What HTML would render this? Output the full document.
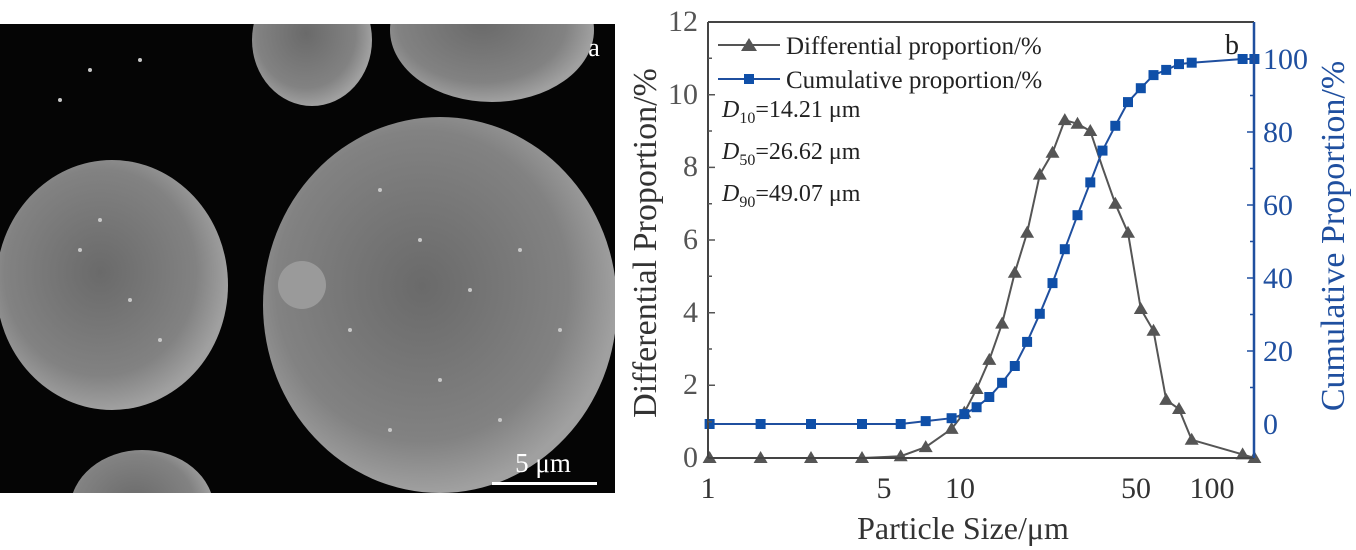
<!DOCTYPE html>
<html><head><meta charset="utf-8"><style>
html,body{margin:0;padding:0;background:#fff;width:1356px;height:550px;overflow:hidden}
svg{display:block}
text{font-family:"Liberation Serif",serif}
</style></head><body>
<svg width="1356" height="550" viewBox="0 0 1356 550" xmlns="http://www.w3.org/2000/svg">
<defs>
<radialGradient id="sp" cx="45%" cy="45%" r="55%">
<stop offset="0" stop-color="#6a6a6a"/><stop offset="0.75" stop-color="#828282"/><stop offset="1" stop-color="#a0a0a0"/>
</radialGradient>
<clipPath id="semc"><rect x="0" y="24" width="615" height="469"/></clipPath>
<polygon id="tri" points="0,-7 7,5 -7,5" fill="#555"/>
<rect id="sq" x="-5" y="-5" width="10" height="10" fill="#0f4fa8"/>
</defs>
<rect x="0" y="24" width="615" height="469" fill="#050505"/>
<g clip-path="url(#semc)">
<ellipse cx="440" cy="305" rx="177" ry="188" fill="url(#sp)"/>
<ellipse cx="112" cy="285" rx="116" ry="125" fill="url(#sp)"/>
<ellipse cx="312" cy="40" rx="60" ry="66" fill="url(#sp)"/>
<ellipse cx="492" cy="30" rx="102" ry="72" fill="url(#sp)"/>
<ellipse cx="142" cy="510" rx="72" ry="60" fill="url(#sp)"/>
<circle cx="302" cy="285" r="24" fill="#9a9a9a"/>
<g fill="#c8c8c8">
<circle cx="380" cy="190" r="2"/><circle cx="420" cy="240" r="2"/><circle cx="470" cy="290" r="2"/><circle cx="350" cy="330" r="2"/><circle cx="520" cy="250" r="2"/><circle cx="440" cy="380" r="2"/><circle cx="500" cy="420" r="2"/><circle cx="390" cy="430" r="2"/><circle cx="560" cy="330" r="2"/><circle cx="80" cy="250" r="2"/><circle cx="130" cy="300" r="2"/><circle cx="100" cy="220" r="2"/><circle cx="160" cy="340" r="2"/><circle cx="60" cy="100" r="2"/><circle cx="90" cy="70" r="2"/><circle cx="140" cy="60" r="2"/>
</g>
</g>
<text x="594" y="56" font-size="26" fill="#fff" text-anchor="middle">a</text>
<text x="543" y="472" font-size="27" fill="#fff" text-anchor="middle">5 μm</text>
<rect x="492" y="482" width="105" height="3" fill="#fff"/>

<polyline fill="none" stroke="#555" stroke-width="2" points="709.6,458 760.6,458 811,458 862,458 900.7,456.2 925.7,447.1 951.6,428.9 964.3,412.6 976.6,389 989.3,359.9 1002.1,323.6 1014.8,272.7 1027.1,232.8 1039.8,174.6 1052.5,152.8 1064.8,120.1 1077.5,123.8 1090.3,131 1102.5,167.4 1115.3,203.7 1128,232.8 1140.8,309 1153.5,330.8 1166.2,399.9 1179,409 1191.7,439.8 1242.6,454.4 1254.4,458"/>
<polyline fill="none" stroke="#1f4f9f" stroke-width="2" points="709.6,424 760.6,424 811,424 862,424 900.7,424 925.7,421.1 951.6,418.2 964.3,414.1 976.6,407.2 989.3,397 1002.1,382.8 1014.8,366 1027.1,341.9 1039.8,313.8 1052.5,283.1 1064.8,249.2 1077.5,215.2 1090.3,182.4 1102.5,150.6 1115.3,125.8 1128,102.1 1140.8,88.2 1153.5,75.1 1166.2,69.9 1179,64.1 1191.7,62.7 1242.6,59 1254.4,59"/>
<g>
<use href="#tri" x="709.6" y="458"/><use href="#tri" x="760.6" y="458"/><use href="#tri" x="811" y="458"/><use href="#tri" x="862" y="458"/><use href="#tri" x="900.7" y="456.2"/><use href="#tri" x="925.7" y="447.1"/><use href="#tri" x="951.6" y="428.9"/><use href="#tri" x="964.3" y="412.6"/><use href="#tri" x="976.6" y="389"/><use href="#tri" x="989.3" y="359.9"/><use href="#tri" x="1002.1" y="323.6"/><use href="#tri" x="1014.8" y="272.7"/><use href="#tri" x="1027.1" y="232.8"/><use href="#tri" x="1039.8" y="174.6"/><use href="#tri" x="1052.5" y="152.8"/><use href="#tri" x="1064.8" y="120.1"/><use href="#tri" x="1077.5" y="123.8"/><use href="#tri" x="1090.3" y="131"/><use href="#tri" x="1115.3" y="203.7"/><use href="#tri" x="1128" y="232.8"/><use href="#tri" x="1140.8" y="309"/><use href="#tri" x="1153.5" y="330.8"/><use href="#tri" x="1166.2" y="399.9"/><use href="#tri" x="1179" y="409"/><use href="#tri" x="1191.7" y="439.8"/><use href="#tri" x="1242.6" y="454.4"/><use href="#tri" x="1254.4" y="458"/>
</g>
<g>
<use href="#sq" x="709.6" y="424"/><use href="#sq" x="760.6" y="424"/><use href="#sq" x="811" y="424"/><use href="#sq" x="862" y="424"/><use href="#sq" x="900.7" y="424"/><use href="#sq" x="925.7" y="421.1"/><use href="#sq" x="951.6" y="418.2"/><use href="#sq" x="964.3" y="414.1"/><use href="#sq" x="976.6" y="407.2"/><use href="#sq" x="989.3" y="397"/><use href="#sq" x="1002.1" y="382.8"/><use href="#sq" x="1014.8" y="366"/><use href="#sq" x="1027.1" y="341.9"/><use href="#sq" x="1039.8" y="313.8"/><use href="#sq" x="1052.5" y="283.1"/><use href="#sq" x="1064.8" y="249.2"/><use href="#sq" x="1077.5" y="215.2"/><use href="#sq" x="1090.3" y="182.4"/><use href="#sq" x="1102.5" y="150.6"/><use href="#sq" x="1115.3" y="125.8"/><use href="#sq" x="1128" y="102.1"/><use href="#sq" x="1140.8" y="88.2"/><use href="#sq" x="1153.5" y="75.1"/><use href="#sq" x="1166.2" y="69.9"/><use href="#sq" x="1179" y="64.1"/><use href="#sq" x="1191.7" y="62.7"/><use href="#sq" x="1242.6" y="59"/><use href="#sq" x="1254.4" y="59"/>
</g>

<line x1="708" y1="22" x2="1254" y2="22" stroke="#444" stroke-width="2"/>
<line x1="708" y1="22" x2="708" y2="458" stroke="#444" stroke-width="2"/>
<line x1="708" y1="458" x2="1254" y2="458" stroke="#444" stroke-width="2"/>
<line x1="1254" y1="22" x2="1254" y2="458" stroke="#1f4f9f" stroke-width="2.5"/>
<path stroke="#555" stroke-width="1.5" fill="none" d="M708,421.7h4M708,385.3h7M708,349h4M708,312.7h7M708,276.3h4M708,240h7M708,203.7h4M708,167.4h7M708,131h4M708,94.7h7M708,58.3h4"/>
<path stroke="#1f4f9f" stroke-width="1.5" fill="none" d="M1254,387.5h-4M1254,351h-7M1254,314.5h-4M1254,278h-7M1254,241.5h-4M1254,205h-7M1254,168.5h-4M1254,132h-7M1254,95.5h-4M1254,59h-7"/>
<g font-size="30" fill="#555" text-anchor="end">
<text x="698" y="467">0</text><text x="698" y="394">2</text><text x="698" y="322">4</text><text x="698" y="249">6</text><text x="698" y="176">8</text><text x="698" y="104">10</text><text x="698" y="31">12</text>
</g>
<g font-size="30" fill="#1f4f9f" text-anchor="start">
<text x="1263" y="434">0</text><text x="1263" y="361">20</text><text x="1263" y="288">40</text><text x="1263" y="215">60</text><text x="1263" y="142">80</text><text x="1263" y="69">100</text>
</g>
<g font-size="30" fill="#333" text-anchor="middle">
<text x="708" y="498">1</text><text x="884" y="498">5</text><text x="960" y="498">10</text><text x="1136" y="498">50</text><text x="1212" y="498">100</text>
</g>
<text x="963" y="539" font-size="32" fill="#333" text-anchor="middle">Particle Size/μm</text>
<text transform="translate(656,243) rotate(-90)" font-size="34" fill="#333" text-anchor="middle">Differential Proportion/%</text>
<text transform="translate(1344,236) rotate(-90)" font-size="34" fill="#1f4f9f" text-anchor="middle">Cumulative Proportion/%</text>
<text x="1232" y="54" font-size="28" fill="#222" text-anchor="middle">b</text>
<line x1="718" y1="45" x2="780" y2="45" stroke="#555" stroke-width="2"/>
<polygon points="749,38 757,51 741,51" fill="#555"/>
<text x="786" y="54" font-size="25" fill="#222">Differential proportion/%</text>
<line x1="718" y1="79" x2="780" y2="79" stroke="#1f4f9f" stroke-width="2"/>
<rect x="744" y="74" width="10" height="10" fill="#0f4fa8"/>
<text x="786" y="88" font-size="25" fill="#222">Cumulative proportion/%</text>
<g font-size="24" fill="#222">
<text x="722" y="117"><tspan font-style="italic">D</tspan><tspan font-size="16" dy="6">10</tspan><tspan dy="-6">=14.21 μm</tspan></text>
<text x="722" y="159"><tspan font-style="italic">D</tspan><tspan font-size="16" dy="6">50</tspan><tspan dy="-6">=26.62 μm</tspan></text>
<text x="722" y="201"><tspan font-style="italic">D</tspan><tspan font-size="16" dy="6">90</tspan><tspan dy="-6">=49.07 μm</tspan></text>
</g>
</svg>
</body></html>
